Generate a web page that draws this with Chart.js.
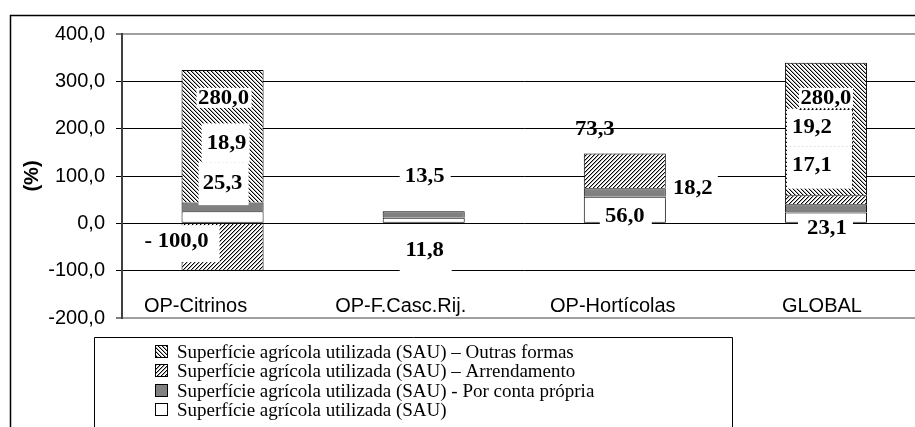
<!DOCTYPE html>
<html><head><meta charset="utf-8">
<script src="https://cdn.jsdelivr.net/npm/chart.js@4.4.1/dist/chart.umd.min.js"></script>
<style>
html,body{margin:0;padding:0;background:#fff;overflow:hidden;}
#wrap{position:relative;width:915px;height:427px;overflow:hidden;}
canvas{display:block;}
</style></head><body>
<div id="wrap"><canvas id="c" width="950" height="427" style="width:950px;height:427px"></canvas></div>
<script>
// ---- data ----
const categories = ['OP-Citrinos', 'OP-F.Casc.Rij.', 'OP-Hortícolas', 'GLOBAL'];
const seriesNames = [
  'Superfície agrícola utilizada (SAU)',
  'Superfície agrícola utilizada (SAU) - Por conta própria',
  'Superfície agrícola utilizada (SAU) – Arrendamento',
  'Superfície agrícola utilizada (SAU) – Outras formas'
];
const sauValues          = [25.3, 11.8, 56.0, 23.1];
const contaPropriaValues = [18.9, 13.5, 18.2, 17.1];
const arrendamentoValues = [-100.0, null, 73.3, 19.2];
const outrasFormasValues = [280.0, null, null, 280.0];
const yTickValues = [-200, -100, 0, 100, 200, 300, 400];

// ---- text placement (layout only) ----
const categoryLabelShift = [-27, -23, -12, -4];
const labelPlacement = [
  {ds:3, cat:0, at:265,   dx:1,   box:[-27,28,-10,10]},
  {ds:1, cat:0, at:171,   dx:4,   box:[-25,23,-19,20]},
  {ds:0, cat:0, at:87,    dx:0,   box:[-24,26,-20,23]},
  {ds:2, cat:0, at:-35.5, dx:-46, box:[-37,43,-15,22]},
  {ds:1, cat:1, at:100,   dx:1,   box:[-25,26,-12,12]},
  {ds:0, cat:1, at:-56,   dx:1,   box:[-25,27,-22,22]},
  {ds:2, cat:2, at:201,   dx:-30, box:null},
  {ds:1, cat:2, at:75,    dx:68,  box:[-27,25,-14,12]},
  {ds:0, cat:2, at:15.4,  dx:0,   box:[-25,27,-11,10]},
  {ds:3, cat:3, at:265,   dx:0,   box:[-27,27,-10,10]},
  {ds:2, cat:3, at:204,   dx:-14, box:[-25,41,-18,20], dash:'tr'},
  {ds:1, cat:3, at:124,   dx:-14, box:[-25,41,-18,24], dash:'r'},
  {ds:0, cat:3, at:-10,   dx:1,   box:[-29,26,-10,12]}
];

function hatch(dir){
  const c = document.createElement('canvas'); c.width = c.height = 4;
  const g = c.getContext('2d');
  g.fillStyle = '#fff'; g.fillRect(0,0,4,4);
  for (let y=0;y<4;y++) for (let x=0;x<4;x++){
    const k = dir === 'back' ? (((x - y) % 4) + 4) % 4 : (x + y) % 4;
    if (k === 0){ g.fillStyle = '#000'; g.fillRect(x,y,1,1); }
    else if (k === 1){ g.fillStyle = '#aaa'; g.fillRect(x,y,1,1); }
  }
  return g.createPattern(c, 'repeat');
}
const fills = ['#ffffff', '#808080', hatch('fwd'), hatch('back')];
const seriesData = [sauValues, contaPropriaValues, arrendamentoValues, outrasFormasValues];

function fmt(v){
  const s = Math.abs(v).toFixed(1).replace('.', ',');
  return v < 0 ? '- ' + s : s;
}

const framePlugin = {
  id: 'frame',
  beforeDraw(chart){
    const ctx = chart.ctx;
    ctx.save();
    ctx.fillStyle = '#fff'; ctx.fillRect(0,0,chart.width,chart.height);
    ctx.strokeStyle = '#000'; ctx.lineWidth = 1.5;
    ctx.beginPath();
    ctx.moveTo(10.5, chart.height + 5); ctx.lineTo(10.5, 15.5); ctx.lineTo(chart.width + 5, 15.5);
    ctx.stroke();
    ctx.restore();
  },
  afterDraw(chart){
    const ctx = chart.ctx;
    ctx.save();
    // category labels, placed through the x scale
    const xs = chart.scales.x;
    ctx.font = '20px "Liberation Sans", Arial';
    ctx.fillStyle = '#000'; ctx.textAlign = 'center'; ctx.textBaseline = 'middle';
    chart.data.labels.forEach((lab, i) => ctx.fillText(lab, xs.getPixelForValue(i) + categoryLabelShift[i], chart.chartArea.bottom - 12));
    // legend
    ctx.strokeStyle = '#000'; ctx.lineWidth = 1;
    ctx.beginPath();
    ctx.moveTo(94.5, chart.height + 5); ctx.lineTo(94.5, 337.5); ctx.lineTo(732.5, 337.5); ctx.lineTo(732.5, chart.height + 5);
    ctx.stroke();
    const ds = chart.data.datasets;
    ctx.font = '19px "Liberation Serif"';
    ctx.textBaseline = 'middle'; ctx.textAlign = 'left';
    for (let i = 0; i < ds.length; i++){
      const d = ds[ds.length - 1 - i];
      const y = Math.round(352 + i * 19.4);
      ctx.fillStyle = d.backgroundColor;
      ctx.fillRect(155.5, y - 6.5, 12, 12);
      ctx.strokeStyle = '#000'; ctx.lineWidth = 1;
      ctx.strokeRect(155.5, y - 6.5, 12, 12);
      ctx.fillStyle = '#000';
      ctx.fillText(d.label, 177, y + 1);
    }
    ctx.restore();
  }
};

const labelPlugin = {
  id: 'valueLabels',
  afterDatasetsDraw(chart){
    const ctx = chart.ctx, xs = chart.scales.x, ys = chart.scales.y;
    ctx.save();
    const pos = labelPlacement.map(p => ({
      p, x: xs.getPixelForValue(p.cat) + p.dx, y: ys.getPixelForValue(p.at),
      text: fmt(chart.data.datasets[p.ds].data[p.cat])
    }));
    ctx.fillStyle = '#fff';
    pos.forEach(o => { if (o.p.box){ const b = o.p.box; ctx.fillRect(o.x + b[0], o.y + b[2], b[1] - b[0], b[3] - b[2]); } });
    ctx.strokeStyle = '#000'; ctx.lineWidth = 1; ctx.setLineDash([2,2]);
    pos.forEach(o => {
      if (!o.p.dash) return;
      const b = o.p.box, l = Math.round(o.x + b[0]) + 0.5, r = Math.round(o.x + b[1]) - 0.5, t = Math.round(o.y + b[2]) + 0.5, bt = Math.round(o.y + b[3]);
      ctx.beginPath();
      if (o.p.dash.includes('t')){ ctx.moveTo(l + 12, t); ctx.lineTo(r, t); }
      if (o.p.dash.includes('r')){ ctx.moveTo(r, t); ctx.lineTo(r, bt); }
      ctx.stroke();
    });
    ctx.setLineDash([]);
    ctx.fillStyle = '#000';
    ctx.font = 'bold 21px "Liberation Serif"';
    ctx.textAlign = 'center'; ctx.textBaseline = 'middle';
    pos.forEach(o => {
      ctx.save(); ctx.translate(o.x, o.y + 1); ctx.scale(1.08, 1);
      ctx.fillText(o.text, 0, 0); ctx.restore();
    });
    ctx.restore();
  }
};

const isEdge = v => v === yTickValues[0] || v === yTickValues[yTickValues.length - 1];

new Chart(document.getElementById('c'), {
  type: 'bar',
  data: {
    labels: categories,
    datasets: seriesData.map((d, i) => ({
      label: seriesNames[i],
      data: d,
      backgroundColor: fills[i],
      borderColor: '#000',
      borderWidth: ctx => {
        const v = ctx.raw;
        if (v < 0) return {top:0, bottom:1, left:1, right:1};
        return {top:1, bottom: i === 0 ? 1 : 0, left:1, right:1};
      },
      borderSkipped: false,
      barPercentage: 0.408,
      categoryPercentage: 1
    }))
  },
  options: {
    responsive: false,
    devicePixelRatio: 1,
    animation: false,
    events: [],
    layout: { padding: { left: 0, top: 34, right: 23.5, bottom: 109 } },
    plugins: { legend: { display: false }, tooltip: { enabled: false } },
    scales: {
      x: {
        stacked: true,
        grid: { display: false, drawTicks: false },
        border: { display: false },
        ticks: { display: false },
        afterFit: s => { s.height = 0; }
      },
      y: {
        stacked: true,
        min: yTickValues[0], max: yTickValues[yTickValues.length - 1],
        afterBuildTicks: s => { s.ticks = yTickValues.map(v => ({ value: v })); },
        grid: {
          color: c => (c.tick && isEdge(c.tick.value)) ? '#a0a0a0' : '#000',
          lineWidth: c => (c.tick && isEdge(c.tick.value)) ? 2 : 1,
          tickColor: '#000', tickWidth: 1, tickLength: 6, drawTicks: true
        },
        border: { display: true, color: '#404040', width: 2 },
        ticks: { color: '#000', padding: 11,
                 font: { family: '"Liberation Sans", Arial', size: 20 },
                 callback: v => Number(v).toFixed(1).replace('.', ',') },
        title: { display: true, text: '(%)', color: '#000', padding: { top: 20, bottom: 0 },
                 font: { family: '"Liberation Sans", Arial', size: 20, weight: 'bold' } },
        afterFit: s => { s.width = 122; }
      }
    }
  },
  plugins: [framePlugin, labelPlugin]
});
</script>
</body></html>
